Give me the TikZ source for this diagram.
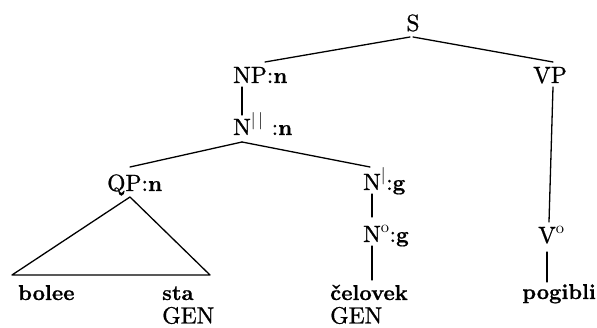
\documentclass[tikz,border=0pt]{standalone}
\usepackage{fontspec}
\setmainfont{lmroman10-regular}[Extension=.otf,BoldFont=lmroman10-bold]
\newfontfamily\rmheavy{lmroman10-regular}[Extension=.otf,RawFeature={embolden=0.9}]
\newfontfamily\bfheavy{lmroman10-bold}[Extension=.otf,RawFeature={embolden=0.7}]
\newcommand\featB[1]{{\bfheavy\fontsize{22}{26}\selectfont #1}}
\begin{document}
\begin{tikzpicture}[x=1pt,y=-1pt,
  lab/.style={inner sep=0pt,anchor=base west,font=\rmheavy\fontsize{23.5}{28}\selectfont},
  word/.style={inner sep=0pt,anchor=base west,font=\bfheavy\fontsize{21.5}{26}\selectfont},
  br/.style={line width=1.3pt,line cap=round}]
\useasboundingbox (0,0) rectangle (597,328);
\node[lab,anchor=base] (S) at (413,31) {S};
\node[lab] (NP) at (233,83) {NP:\featB{n}};
\node[lab] (VP) at (533,83) {VP};
\node[lab] (N2) at (233,135) {N$^{|\,|}$ :\featB{n}};
\node[lab] (QP) at (107,191) {QP:\featB{n}};
\node[lab] (N1) at (363,190) {N$^{|}$:\featB{g}};
\node[lab] (N0) at (363,242) {N$^{\mathrm{o}}$:\featB{g}};
\node[lab] (V0) at (538,243) {V$^{\mathrm{o}}$};
\node[word] (bolee) at (18,300) {bolee};
\node[word] (sta) at (162,300) {sta};
\node[lab] (gen1) at (162,323.5) {GEN};
\node[word] (celovek) at (330,300) {čelovek};
\node[lab] (gen2) at (330,323.5) {GEN};
\node[word,anchor=base east] (pogibli) at (596,299) {pogibli};
\draw[br] ([shift={(-3,6)}]S.base) -- ([shift={(32,-21)}]NP.base west);
\draw[br] ([shift={(0,6)}]S.base) -- ([shift={(20,-21)}]VP.base west);
\draw[br] ([shift={(9,4)}]NP.base west) -- ([shift={(9,-20)}]N2.base west);
\draw[br] ([shift={(9,7)}]N2.base west) -- ([shift={(23,-24)}]QP.base west);
\draw[br] ([shift={(9,7)}]N2.base west) -- ([shift={(7,-23)}]N1.base west);
\draw[br] ([shift={(9,4)}]N1.base west) -- ([shift={(9,-25)}]N0.base west);
\draw[br] ([shift={(9,4)}]N0.base west) -- ([shift={(42,-20)}]celovek.base west);
\draw[br] ([shift={(20,4)}]VP.base west) -- ([shift={(11,-21)}]V0.base west);
\draw[br] ([shift={(9,9)}]V0.base west) -- ([shift={(-49,-17)}]pogibli.base east);
\draw[br,line join=round] ([shift={(23,6)}]QP.base west) -- ([shift={(-6,-25)}]bolee.base west) -- ([shift={(48,-25)}]sta.base west) -- cycle;
\end{tikzpicture}
\end{document}
